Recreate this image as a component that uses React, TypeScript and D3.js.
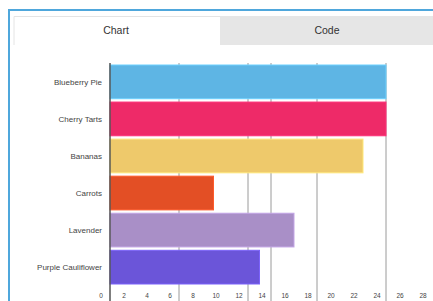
import React from "react";
import * as d3 from "d3";

const categories = [
  "Blueberry Pie",
  "Cherry Tarts",
  "Bananas",
  "Carrots",
  "Lavender",
  "Purple Cauliflower",
];
const values = [24, 24, 22, 9, 16, 13];
const colors = ["#5EB5E4", "#EE2A68", "#EEC96B", "#E34F25", "#A98FC7", "#6B55D9"];
const tickValues = [0, 2, 4, 6, 8, 10, 12, 14, 16, 18, 20, 22, 24, 26, 28];
const gridValues = [6, 12, 14, 18, 24];
const tabs = ["Chart", "Code"];

export default function App() {
  const W = 433;
  const H = 301;
  const x = d3.scaleLinear().domain([0, 28]).range([110, 432]);
  const y = d3
    .scaleBand<string>()
    .domain(categories)
    .range([65, 284])
    .paddingInner(0.09)
    .paddingOuter(0);
  const font = "'Liberation Sans', Arial, sans-serif";
  return (
    <div style={{ position: "fixed", left: 0, top: 0, width: W, height: H, background: "#fff" }}>
      <svg width={W} height={H} style={{ display: "block" }} fontFamily={font}>
        <rect x={0} y={0} width={W} height={H} fill="#fff" />
        {/* card border */}
        <rect x={9} y={10} width={W + 20} height={H + 20} fill="#fff" stroke="#4FA7DC" strokeWidth={2} />
        {/* tabs */}
        <rect x={220} y={16} width={W} height={29} fill="#E6E6E6" />
        <path d="M14,45 L14,16.5 L220,16.5" fill="none" stroke="#E4E4E4" strokeWidth={1} />
        <text x={116} y={34} textAnchor="middle" fontSize={10.5} fill="#333">{tabs[0]}</text>
        <text x={327} y={34} textAnchor="middle" fontSize={10.5} fill="#333">{tabs[1]}</text>
        {/* gridlines */}
        {gridValues.map((g) => (
          <line key={g} x1={x(g)} x2={x(g)} y1={63} y2={H} stroke="#9A9A9A" strokeWidth={1} />
        ))}
        {/* bars */}
        {categories.map((c, i) => (
          <rect
            key={c}
            x={x(0)}
            y={y(c)!}
            width={x(values[i]) - x(0)}
            height={y.bandwidth()}
            fill={colors[i]}
            stroke={d3.color(colors[i])!.brighter(0.4).toString()}
            strokeWidth={1}
          />
        ))}
        {/* axis line */}
        <line x1={110} x2={110} y1={63} y2={H} stroke="#555" strokeWidth={1.5} />
        {/* category labels */}
        {categories.map((c) => (
          <text
            key={c}
            x={102}
            y={y(c)! + y.bandwidth() / 2}
            dy="0.35em"
            textAnchor="end"
            fontSize={8}
            fill="#444"
          >
            {c}
          </text>
        ))}
        {/* tick labels */}
        {tickValues.map((t) => (
          <text
            key={t}
            x={x(t) - 9}
            y={298}
            textAnchor="middle"
            fontSize={6.5}
            fill="#444"
          >
            {t}
          </text>
        ))}
      </svg>
    </div>
  );
}
